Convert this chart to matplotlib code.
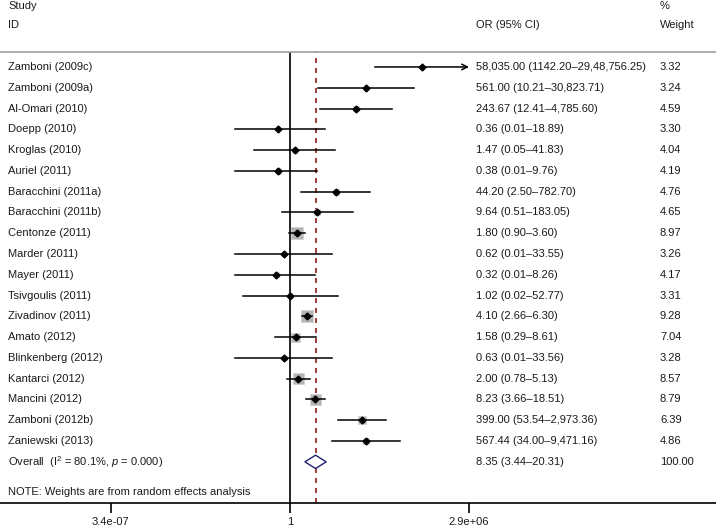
import numpy as np
import matplotlib.pyplot as plt

plt.rcParams['font.family'] = ['Liberation Sans', 'DejaVu Sans']
plt.rcParams['mathtext.fontset'] = 'custom'
plt.rcParams['mathtext.rm'] = 'Liberation Sans'
plt.rcParams['mathtext.it'] = 'Liberation Sans:italic'
#-------------------------------------------------------------------------------
studies = ['Zamboni (2009c)', 'Zamboni (2009a)', 'Al-Omari (2010)', 'Doepp (2010)',
           'Kroglas (2010)', 'Auriel (2011)', 'Baracchini (2011a)', 'Baracchini (2011b)',
           'Centonze (2011)', 'Marder (2011)', 'Mayer (2011)', 'Tsivgoulis (2011)',
           'Zivadinov (2011)', 'Amato (2012)', 'Blinkenberg (2012)', 'Kantarci (2012)',
           'Mancini (2012)', 'Zamboni (2012b)', 'Zaniewski (2013)']
odds = [58035.00, 561.00, 243.67, 0.36, 1.47, 0.38, 44.20, 9.64, 1.80, 0.62, 0.32,
        1.02, 4.10, 1.58, 0.63, 2.00, 8.23, 399.00, 567.44]
ci_lo = [1142.20, 10.21, 12.41, 0.01, 0.05, 0.01, 2.50, 0.51, 0.90, 0.01, 0.01,
         0.02, 2.66, 0.29, 0.01, 0.78, 3.66, 53.54, 34.00]
ci_hi = [2948756.25, 30823.71, 4785.60, 18.89, 41.83, 9.76, 782.70, 183.05, 3.60,
         33.55, 8.26, 52.77, 6.30, 8.61, 33.56, 5.13, 18.51, 2973.36, 9471.16]
weights = [3.32, 3.24, 4.59, 3.30, 4.04, 4.19, 4.76, 4.65, 8.97, 3.26, 4.17, 3.31,
           9.28, 7.04, 3.28, 8.57, 8.79, 6.39, 4.86]
ci_text = ['58,035.00 (1142.20\u201329,48,756.25)', '561.00 (10.21\u201330,823.71)',
           '243.67 (12.41\u20134,785.60)', '0.36 (0.01\u201318.89)', '1.47 (0.05\u201341.83)',
           '0.38 (0.01\u20139.76)', '44.20 (2.50\u2013782.70)', '9.64 (0.51\u2013183.05)',
           '1.80 (0.90\u20133.60)', '0.62 (0.01\u201333.55)', '0.32 (0.01\u20138.26)',
           '1.02 (0.02\u201352.77)', '4.10 (2.66\u20136.30)', '1.58 (0.29\u20138.61)',
           '0.63 (0.01\u201333.56)', '2.00 (0.78\u20135.13)', '8.23 (3.66\u201318.51)',
           '399.00 (53.54\u20132,973.36)', '567.44 (34.00\u20139,471.16)']
overall_or, overall_lo, overall_hi = 8.35, 3.44, 20.31
overall_text = '8.35 (3.44\u201320.31)'
xticks = [3.4e-07, 1, 2.9e+06]
xtick_labels = ['3.4e-07', '1', '2.9e+06']
#-------------------------------------------------------------------------------
txt = '#1a1a1a'
fs = 8
fig = plt.figure(figsize=(7.16, 5.28), dpi=100)
ax = fig.add_axes([0, 25/528, 1, (503-52)/528])
ax.set_xscale('log')
ax.set_xlim(10**-10.47, 10**15.38)
ax.set_ylim(20.98, -0.72)

n = len(studies)
y = np.arange(n)
xmax = xticks[-1]
for i in range(n):
    hi = min(ci_hi[i], xmax)
    if ci_hi[i] > xmax:
        ax.annotate('', xy=(hi, y[i]), xytext=(ci_lo[i], y[i]),
                    arrowprops=dict(arrowstyle='->', color='black', lw=1.1,
                                    shrinkA=0, shrinkB=0, mutation_scale=10))
    else:
        ax.plot([ci_lo[i], hi], [y[i], y[i]], color='black', lw=1.1, zorder=3)
# box area grows with weight
w = np.array(weights)
ax.scatter(odds, y, s=0.85*w**2, marker='s', color='#b4b4b4',
           edgecolor='#d0d0d0', linewidth=0.5, zorder=2)
ax.plot(odds, y, 'D', color='black', markersize=3.5, zorder=4, linestyle='none')

# overall diamond
yo = n
ax.fill([overall_lo, overall_or, overall_hi, overall_or],
        [yo, yo-0.32, yo, yo+0.32], facecolor='white', edgecolor='#202070', lw=1.0, zorder=3)

ax.axvline(1, color='black', lw=1.2, zorder=1)
ax.axvline(overall_or, color='#8b1a1a', lw=1.2, ls=(0, (3, 3)), zorder=1)

for s in ['left', 'right']:
    ax.spines[s].set_visible(False)
ax.spines['top'].set_color('#a0a0a0')
ax.spines['top'].set_linewidth(1.2)
ax.spines['bottom'].set_linewidth(1.2)
ax.set_yticks([])
ax.minorticks_off()
ax.set_xticks(xticks)
ax.set_xticklabels(xtick_labels, fontsize=fs, color=txt)
ax.tick_params(axis='x', length=7, width=1.2, pad=3)

tr = ax.get_yaxis_transform()
xs, xo, xw = 8/716, 476/716, 660/716
for i in range(n):
    ax.text(xs, y[i], studies[i], transform=tr, fontsize=fs, color=txt, va='center')
    ax.text(xo, y[i], ci_text[i], transform=tr, fontsize=fs, color=txt, va='center')
    ax.text(xw, y[i], '%.2f' % weights[i], transform=tr, fontsize=fs, color=txt, va='center')
ax.text(xs, yo, r'Overall  (I$^2$ = 80.1%, $p$ = 0.000)', transform=tr, fontsize=fs,
        color=txt, va='center')
ax.text(xo, yo, overall_text, transform=tr, fontsize=fs, color=txt, va='center')
ax.text(xw, yo, '100.00', transform=tr, fontsize=fs, color=txt, va='center')
ax.text(xs, 20.45, 'NOTE: Weights are from random effects analysis', transform=tr,
        fontsize=fs, color=txt, va='center')

# header
ax.text(xs, -2.95, 'Study', transform=tr, fontsize=fs, color=txt, va='center', clip_on=False)
ax.text(xs, -2.0, 'ID', transform=tr, fontsize=fs, color=txt, va='center', clip_on=False)
ax.text(xo, -2.0, 'OR (95% CI)', transform=tr, fontsize=fs, color=txt, va='center', clip_on=False)
ax.text(xw, -2.95, '%', transform=tr, fontsize=fs, color=txt, va='center', clip_on=False)
ax.text(xw, -2.0, 'Weight', transform=tr, fontsize=fs, color=txt, va='center', clip_on=False)

fig.savefig('out.png', dpi=100)
